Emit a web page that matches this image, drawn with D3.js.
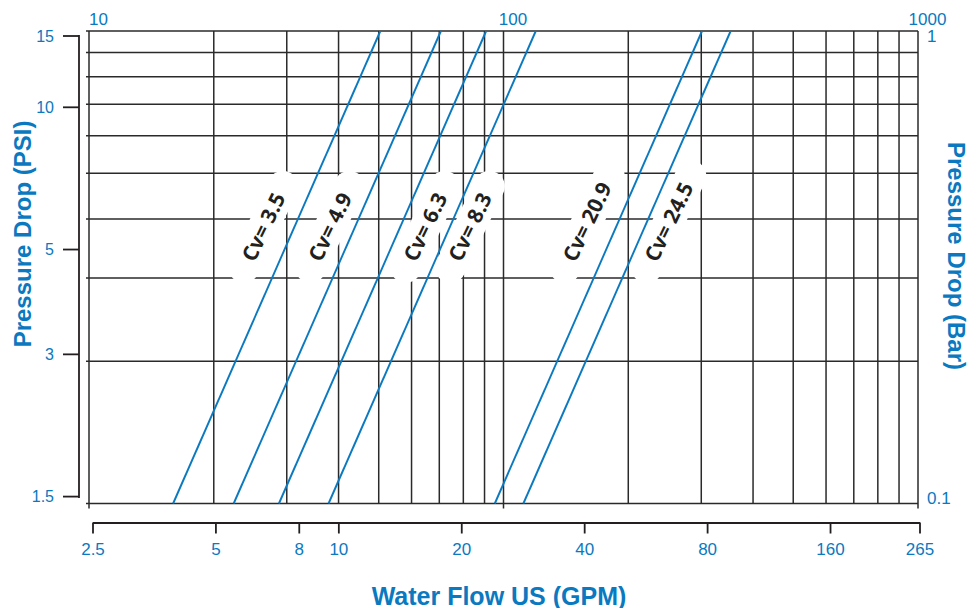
<!DOCTYPE html>
<html>
<head>
<meta charset="utf-8">
<script src="https://cdn.jsdelivr.net/npm/d3@7"></script>
<style>
  html, body { margin: 0; padding: 0; background: #fff; }
  svg { display: block; }
</style>
</head>
<body>
<svg id="chart" width="969" height="608"></svg>
<script>
// Valve flow coefficients, each drawn as Q = Cv * sqrt(dP)
const cvValues = [3.5, 4.9, 6.3, 8.3, 20.9, 24.5];
const cvLabels = cvValues.map(v => "Cv= " + v);

// Axis tick values
const lpmTicks = [10, 100, 1000];                          // top: litres per minute
const barTicks = [0.1, 1];                                 // right: bar
const psiTicks = [1.5, 3, 5, 10, 15];                      // left: PSI
const gpmTicks = [2.5, 5, 8, 10, 20, 40, 80, 160, 265];    // bottom: US GPM

// Unit conversions
const PSI_PER_BAR = 14.5038;
const LPM_PER_GPM = 3.78541;

// Layout
const plot = { left: 89, right: 918, top: 31, bottom: 503.5 };
const BLUE = "#0a79c0", INK = "#231f20", GRID = "#2a2a2a";
const NUM_FONT = "'Liberation Sans', Arial, Helvetica, sans-serif";
const LABEL_FONT = "'Open Sans', 'DejaVu Sans Condensed', sans-serif";

// Cv label placement: pressure (bar) where the labels sit, horizontal shift from the line
const labelBar = 0.385;
const labelShift = [-31, -25, 25, 20, -29, 24];
const labelLift = [0, 0, 0, 0, -5, -5];

const svg = d3.select("#chart");

// Scales: plot area is log flow (L/min) vs log pressure (bar)
const x = d3.scaleLog().domain([10, 1000]).range([plot.left, plot.right]);
const y = d3.scaleLog().domain([0.1, 1]).range([plot.bottom, plot.top]);
const yPsi = d3.scaleLog().domain([0.1 * PSI_PER_BAR, PSI_PER_BAR])
  .range([plot.bottom, plot.top]).clamp(true);
const xGpm = d3.scaleLog().domain([gpmTicks[0], gpmTicks[gpmTicks.length - 1]])
  .range([92.5, 919.5]);

const flowLpm = (cv, bar) => cv * Math.sqrt(bar * PSI_PER_BAR) * LPM_PER_GPM;

// ---- grid ----
const grid = svg.append("g").attr("stroke", GRID).attr("stroke-width", 1.5);
const isDecade = v => Math.abs(Math.log10(v) - Math.round(Math.log10(v))) < 1e-9;
grid.selectAll("line.v").data(x.ticks()).join("line")
  .attr("class", "v")
  .attr("x1", d => x(d)).attr("x2", d => x(d))
  .attr("y1", plot.top)
  .attr("y2", d => isDecade(d) ? plot.bottom + 5 : plot.bottom);
grid.selectAll("line.h").data(y.ticks()).join("line")
  .attr("class", "h")
  .attr("x1", plot.left - 3).attr("x2", plot.right)
  .attr("y1", d => y(d)).attr("y2", d => y(d));

// Angle of the Cv lines in screen space
const slopeAngle = -Math.atan2(
  y(0.1) - y(1),
  x(flowLpm(1, 1)) - x(flowLpm(1, 0.1))
) * 180 / Math.PI;

const labelTransform = d =>
  `translate(${x(flowLpm(d.cv, labelBar)) + labelShift[d.i]},${y(labelBar) + labelLift[d.i]}) rotate(${slopeAngle + 2})`;
const labelData = cvValues.map((cv, i) => ({ cv, text: cvLabels[i], i }));

// ---- label knock-outs (white capsules hiding the grid) ----
const knock = svg.append("g").selectAll("rect")
  .data(labelData)
  .join("rect")
  .attr("transform", labelTransform)
  .attr("fill", "#fff");

// ---- Cv lines ----
const line = d3.line().x(d => x(d.q)).y(d => y(d.p));
svg.append("g").selectAll("path")
  .data(cvValues)
  .join("path")
  .attr("d", cv => line(y.domain().map(p => ({ p, q: flowLpm(cv, p) }))))
  .attr("fill", "none")
  .attr("stroke", BLUE)
  .attr("stroke-width", 1.9);

// ---- Cv label text, on top ----
const labelText = svg.append("g").selectAll("text")
  .data(labelData)
  .join("text")
  .attr("transform", labelTransform)
  .attr("text-anchor", "middle")
  .attr("dy", "0.36em")
  .attr("font-family", LABEL_FONT)
  .attr("font-weight", 700)
  .attr("font-size", 21)
  .attr("fill", INK)
  .text(d => d.text);

labelText.each(function (d, i) {
  const len = this.getComputedTextLength();
  const padL = 24, half = 15.5;
  d3.select(knock.nodes()[i])
    .attr("x", -len / 2 - padL).attr("y", -half)
    .attr("width", len + 2 * padL).attr("height", 2 * half)
    .attr("rx", half).attr("ry", half);
});

// ---- top axis (L/min) ----
const topAxis = svg.append("g")
  .attr("transform", `translate(0,${plot.top})`)
  .call(d3.axisTop(x).tickValues(lpmTicks).tickFormat(d => String(d)).tickSize(0).tickPadding(6.5));
topAxis.select(".domain").remove();
topAxis.selectAll("text")
  .attr("dx", 9)
  .attr("fill", BLUE).attr("font-family", NUM_FONT).attr("font-size", 17);

// ---- right axis (bar) ----
const rightAxis = svg.append("g")
  .attr("transform", `translate(${plot.right},0)`)
  .call(d3.axisRight(y).tickValues(barTicks).tickFormat(d => String(d)).tickSize(0).tickPadding(9));
rightAxis.select(".domain").remove();
rightAxis.selectAll("text")
  .attr("dy", d => d === y.domain()[1] ? "0.6em" : "0")
  .attr("fill", BLUE).attr("font-family", NUM_FONT).attr("font-size", 17);

// ---- left axis (PSI), a bracket set off from the plot ----
const leftX = 79, tickLen = 16, inset = 5;
const psiY = v => Math.max(yPsi(v), plot.top + inset);
const left = svg.append("g").attr("stroke", INK).attr("stroke-width", 1.8);
left.append("line")
  .attr("x1", leftX).attr("x2", leftX)
  .attr("y1", psiY(d3.max(psiTicks)) - 0.9)
  .attr("y2", psiY(d3.min(psiTicks)) + 1.5);
left.selectAll("line.t").data(psiTicks).join("line")
  .attr("class", "t")
  .attr("x1", leftX - tickLen).attr("x2", leftX)
  .attr("y1", d => psiY(d)).attr("y2", d => psiY(d));
svg.append("g").selectAll("text").data(psiTicks).join("text")
  .attr("x", leftX - tickLen - 9)
  .attr("y", d => psiY(d))
  .attr("dy", "0.35em")
  .attr("text-anchor", "end")
  .attr("fill", BLUE).attr("font-family", NUM_FONT).attr("font-size", 16)
  .text(d => String(d));

// ---- bottom axis (US GPM) ----
const bottomAxis = svg.append("g")
  .attr("transform", "translate(0,522.5)")
  .call(d3.axisBottom(xGpm).tickValues(gpmTicks).tickFormat(d => String(d))
    .tickSize(11).tickSizeOuter(0).tickPadding(9));
bottomAxis.select(".domain").attr("stroke", INK).attr("stroke-width", 1.8);
bottomAxis.selectAll(".tick line").attr("stroke", INK).attr("stroke-width", 1.8);
bottomAxis.selectAll("text")
  .attr("fill", BLUE).attr("font-family", NUM_FONT).attr("font-size", 17);

// ---- axis titles ----
const titleStyle = sel => sel
  .attr("fill", BLUE).attr("font-family", NUM_FONT)
  .attr("font-weight", 700).attr("text-anchor", "middle");

svg.append("text").call(titleStyle)
  .attr("font-size", 25)
  .attr("x", 499).attr("y", 604.5)
  .text("Water Flow US (GPM)");

svg.append("text").call(titleStyle)
  .attr("font-size", 24)
  .attr("transform", "translate(30.5,234) rotate(-90)")
  .text("Pressure Drop (PSI)");

svg.append("text").call(titleStyle)
  .attr("font-size", 24)
  .attr("transform", "translate(947.5,256) rotate(90)")
  .text("Pressure Drop (Bar)");
</script>
</body>
</html>
